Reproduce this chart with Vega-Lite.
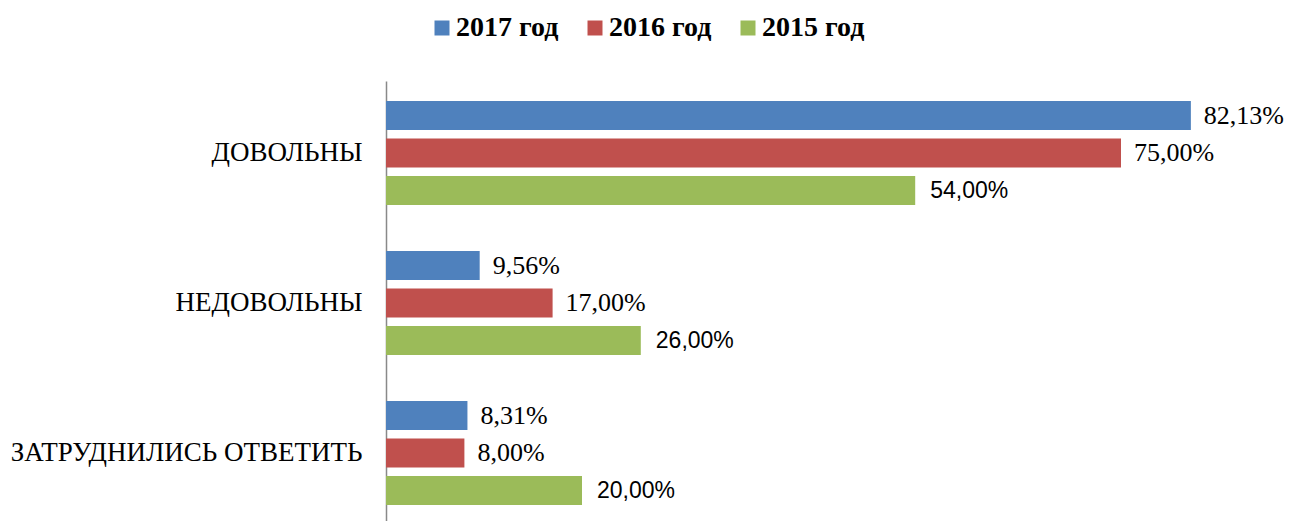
{
  "$schema": "https://vega.github.io/schema/vega-lite/v6.json",
  "autosize": {"type": "none"},
  "width": 882,
  "height": 444,
  "padding": {"left": 386, "top": 81, "right": 21, "bottom": 0},
  "background": "white",
  "config": {
    "view": {"stroke": null},
    "locale": {"number": {"decimal": ",", "thousands": " ", "grouping": [3], "currency": ["", ""]}}
  },
  "data": {
    "values": [
      {"category": "ДОВОЛЬНЫ", "year": "2017 год", "value": 0.8213},
      {"category": "ДОВОЛЬНЫ", "year": "2016 год", "value": 0.75},
      {"category": "ДОВОЛЬНЫ", "year": "2015 год", "value": 0.54},
      {"category": "НЕДОВОЛЬНЫ", "year": "2017 год", "value": 0.0956},
      {"category": "НЕДОВОЛЬНЫ", "year": "2016 год", "value": 0.17},
      {"category": "НЕДОВОЛЬНЫ", "year": "2015 год", "value": 0.26},
      {"category": "ЗАТРУДНИЛИСЬ ОТВЕТИТЬ", "year": "2017 год", "value": 0.0831},
      {"category": "ЗАТРУДНИЛИСЬ ОТВЕТИТЬ", "year": "2016 год", "value": 0.08},
      {"category": "ЗАТРУДНИЛИСЬ ОТВЕТИТЬ", "year": "2015 год", "value": 0.2}
    ]
  },
  "encoding": {
    "y": {
      "field": "category",
      "type": "nominal",
      "sort": ["ДОВОЛЬНЫ", "НЕДОВОЛЬНЫ", "ЗАТРУДНИЛИСЬ ОТВЕТИТЬ"],
      "scale": {"paddingInner": 0.25, "paddingOuter": 0.105},
      "axis": {
        "title": null,
        "ticks": false,
        "labelFont": "Liberation Serif",
        "labelFontSize": 27,
        "labelColor": "black",
        "labelPadding": 24,
        "labelLimit": 400,
        "domainColor": "#898989",
        "domainWidth": 1.5
      }
    },
    "yOffset": {
      "field": "year",
      "type": "nominal",
      "scale": {"domain": ["2017 год", "2016 год", "2015 год"], "paddingInner": 0.23, "paddingOuter": 0.115}
    },
    "x": {
      "field": "value",
      "type": "quantitative",
      "scale": {"domain": [0, 0.9], "nice": false},
      "axis": null
    }
  },
  "layer": [
    {
      "mark": {"type": "bar"},
      "encoding": {
        "color": {
          "field": "year",
          "type": "nominal",
          "scale": {"domain": ["2017 год", "2016 год", "2015 год"], "range": ["#4F81BD", "#C0504D", "#9BBB59"]},
          "legend": {
            "title": null,
            "orient": "none",
            "direction": "horizontal",
            "legendX": 42,
            "legendY": -67,
            "symbolType": "square",
            "symbolSize": 225,
            "symbolStrokeWidth": 0,
            "symbolOpacity": 1,
            "labelFont": "Liberation Serif",
            "labelFontSize": 28,
            "labelFontWeight": "bold",
            "labelColor": "black",
            "labelOffset": 0,
            "columnPadding": 22
          }
        }
      }
    },
    {
      "transform": [{"filter": "datum.year !== '2015 год'"}],
      "mark": {"type": "text", "align": "left", "baseline": "middle", "dx": 13, "font": "Liberation Serif", "fontSize": 26, "color": "black"},
      "encoding": {"text": {"field": "value", "type": "quantitative", "format": ".2%"}}
    },
    {
      "transform": [{"filter": "datum.year === '2015 год'"}],
      "mark": {"type": "text", "align": "left", "baseline": "middle", "dx": 15, "font": "Liberation Sans", "fontSize": 23, "color": "black"},
      "encoding": {"text": {"field": "value", "type": "quantitative", "format": ".2%"}}
    }
  ]
}
